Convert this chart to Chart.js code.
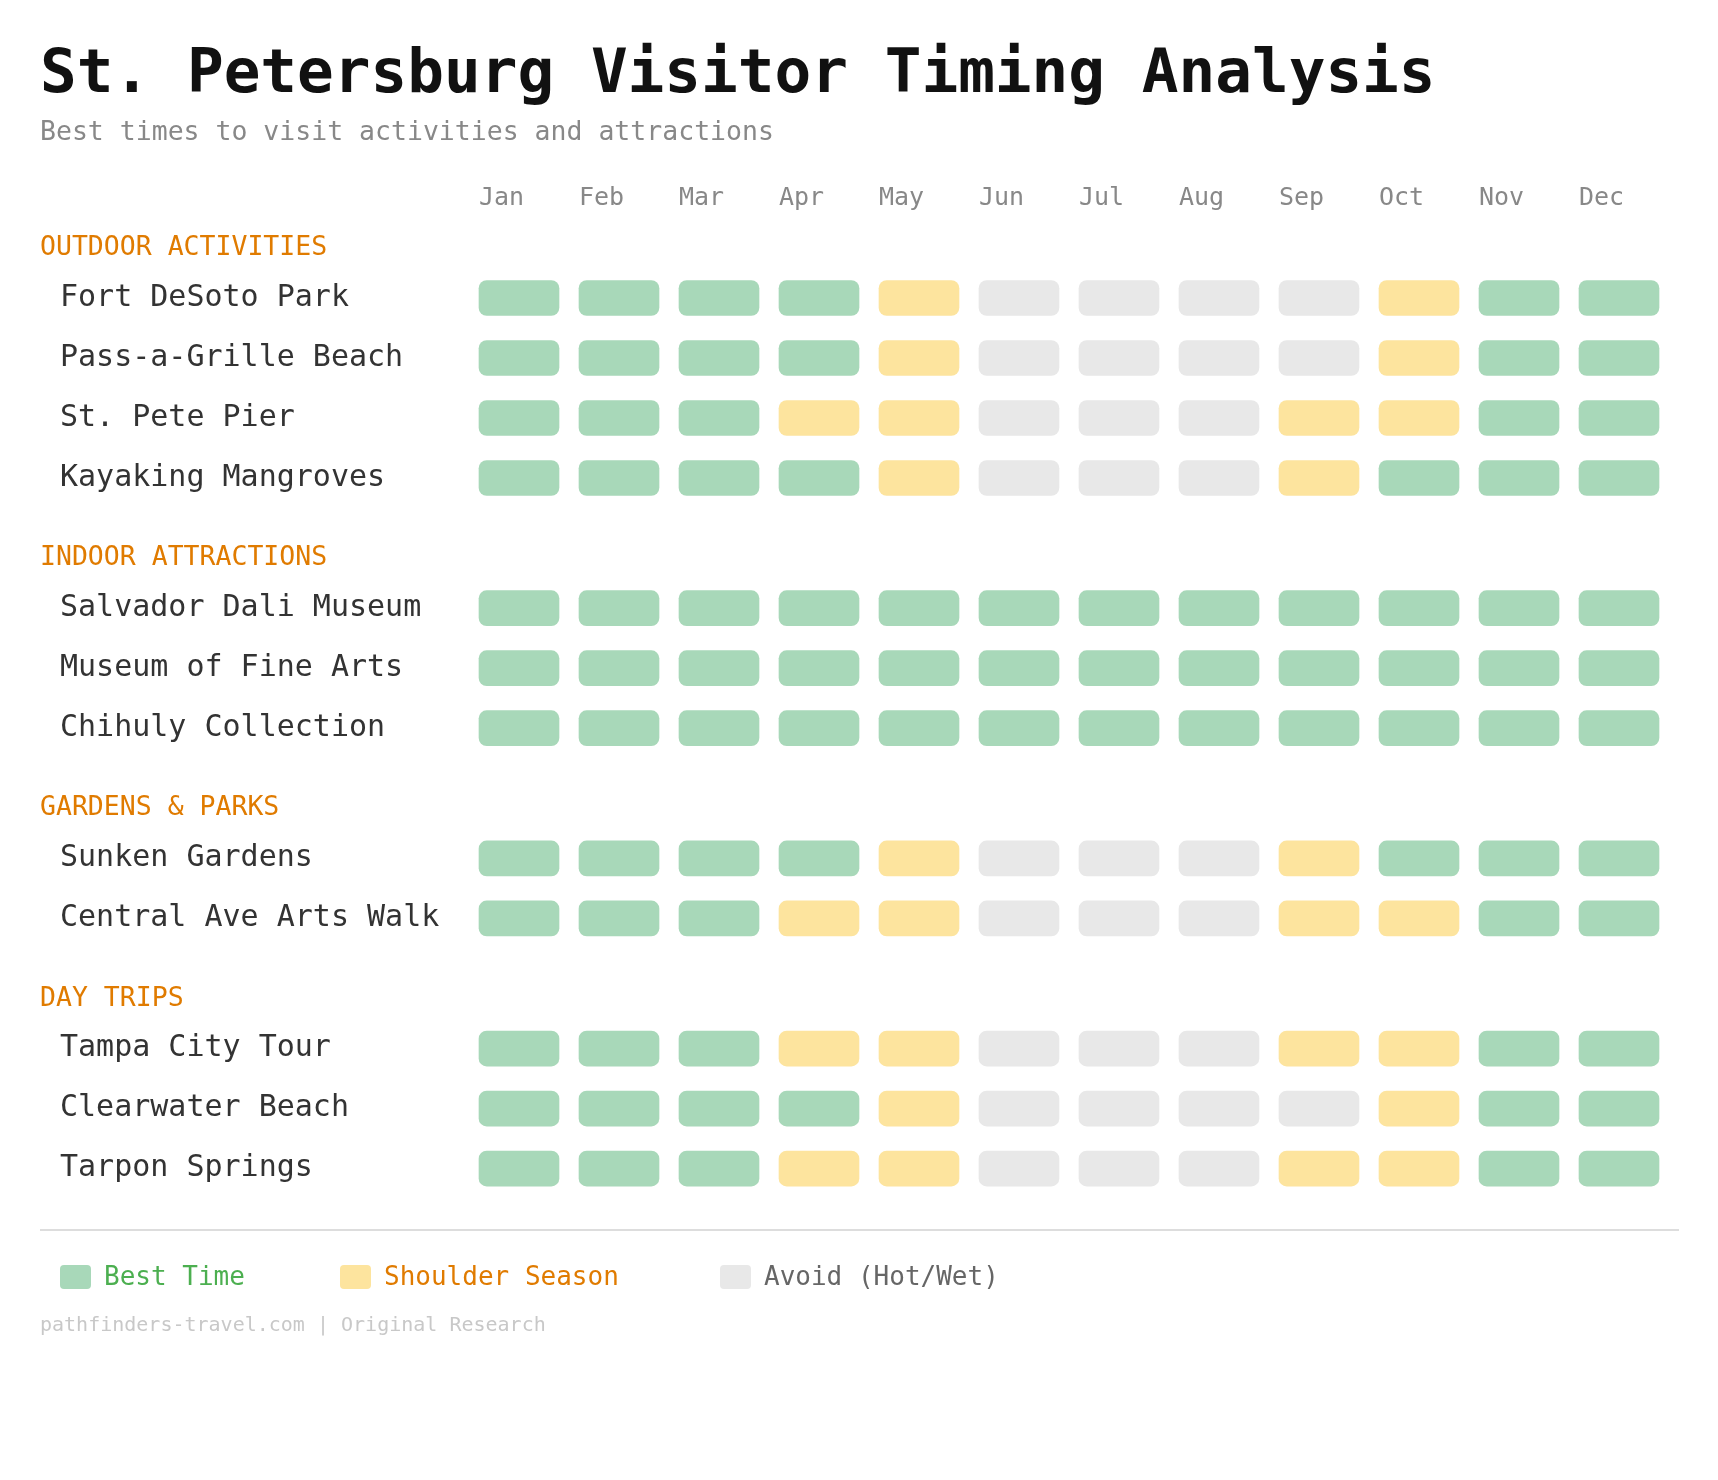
<!DOCTYPE html>
<html>
<head>
<meta charset="utf-8">
<script src="https://cdn.jsdelivr.net/npm/chart.js@4/dist/chart.umd.min.js"></script>
<style>
  html, body { margin: 0; padding: 0; background: #fff; }
  #wrap { width: 1718px; height: 1480px; position: relative; }
</style>
</head>
<body>
<div id="wrap"><canvas id="chart"></canvas></div>
<script>
'use strict'
const months = ["Jan", "Feb", "Mar", "Apr", "May", "Jun", "Jul", "Aug", "Sep", "Oct", "Nov", "Dec"]
const groups = ["OUTDOOR ACTIVITIES", "INDOOR ATTRACTIONS", "GARDENS & PARKS", "DAY TRIPS"]
const groupRows = [
  ["Fort DeSoto Park", "Pass-a-Grille Beach", "St. Pete Pier", "Kayaking Mangroves"],
  ["Salvador Dali Museum", "Museum of Fine Arts", "Chihuly Collection"],
  ["Sunken Gardens", "Central Ave Arts Walk"],
  ["Tampa City Tour", "Clearwater Beach", "Tarpon Springs"]
]
// B = best, S = shoulder, A = avoid
const ratings = [
  "BBBBSAAAASBB",
  "BBBBSAAAASBB",
  "BBBSSAAASSBB",
  "BBBBSAAASBBB",
  "BBBBBBBBBBBB",
  "BBBBBBBBBBBB",
  "BBBBBBBBBBBB",
  "BBBBSAAASBBB",
  "BBBSSAAASSBB",
  "BBBSSAAASSBB",
  "BBBBSAAAASBB",
  "BBBSSAAASSBB"
]
const colors = { B: "#a8d8b9", S: "#fde49e", A: "#e8e8e8" }
const legendItems = [["B", "Best Time", "#4caf50"], ["S", "Shoulder Season", "#e07b00"], ["A", "Avoid (Hot/Wet)", "#666666"]]

// row positions: 1 unit per row, extra gap before each group header
const GROUP_GAP = 2.17
const HEADER_OFF = 0.83
const rowPos = []
const rowNames = []
const headerPos = []
let pos = 0
groupRows.forEach((rows, g) => {
  if (g > 0) pos += GROUP_GAP - 1
  headerPos.push(pos - HEADER_OFF)
  rows.forEach(r => { rowPos.push(pos); rowNames.push(r); pos += 1 })
})

const points = []
const pointColors = []
ratings.forEach((row, r) => {
  for (let m = 0; m < months.length; m++) {
    points.push({ x: [m + 0.1, m + 0.9], y: rowPos[r] })
    pointColors.push(colors[row[m]])
  }
})

const MONO = '"DejaVu Sans Mono", monospace'

const decor = {
  id: "decor",
  afterDraw(chart) {
    const ctx = chart.ctx
    const xs = chart.scales.x
    const ys = chart.scales.y
    ctx.save()
    ctx.textBaseline = "alphabetic"
    ctx.fillStyle = "#111"
    ctx.font = "bold 61px " + MONO
    ctx.fillText("St. Petersburg Visitor Timing Analysis", 40, 92)
    ctx.fillStyle = "#888"
    ctx.font = "26.5px " + MONO
    ctx.fillText("Best times to visit activities and attractions", 40, 140)

    ctx.textBaseline = "middle"
    ctx.font = "25px " + MONO
    ctx.fillStyle = "#888"
    months.forEach((m, i) => ctx.fillText(m, xs.getPixelForValue(i + 0.1), 198))

    ctx.font = "26.5px " + MONO
    ctx.fillStyle = "#e07b00"
    groups.forEach((g, i) => ctx.fillText(g, 40, ys.getPixelForValue(headerPos[i])))

    ctx.font = "30px " + MONO
    ctx.fillStyle = "#333"
    rowNames.forEach((n, i) => ctx.fillText(n, 60, ys.getPixelForValue(rowPos[i])))

    ctx.strokeStyle = "#dddddd"
    ctx.lineWidth = 2
    ctx.beginPath()
    ctx.moveTo(40, 1230)
    ctx.lineTo(1679, 1230)
    ctx.stroke()

    const lx = [60, 340, 720]
    ctx.font = "26px " + MONO
    legendItems.forEach(([k, label, c], i) => {
      ctx.fillStyle = colors[k]
      ctx.beginPath()
      ctx.roundRect(lx[i], 1265, 31, 24, 4)
      ctx.fill()
      ctx.fillStyle = c
      ctx.fillText(label, lx[i] + 44, 1278)
    })

    ctx.font = "20px " + MONO
    ctx.fillStyle = "#c8c8c8"
    ctx.fillText("pathfinders-travel.com | Original Research", 40, 1326)
    ctx.restore()
  }
}

new Chart(document.getElementById("chart"), {
  type: "bar",
  data: {
    datasets: [{
      data: points,
      backgroundColor: pointColors,
      borderRadius: 8,
      borderSkipped: false,
      barThickness: 35,
      grouped: false
    }]
  },
  options: {
    indexAxis: "y",
    responsive: true,
    maintainAspectRatio: false,
    animation: false,
    layout: { padding: { left: 469, right: 49, top: 238, bottom: 222 } },
    scales: {
      x: { type: "linear", min: 0, max: 12, display: false, offset: false },
      y: { type: "linear", min: -1, max: 16, reverse: true, display: false, offset: false }
    },
    plugins: { legend: { display: false }, tooltip: { enabled: false } }
  },
  plugins: [decor]
})
</script>
</body>
</html>
